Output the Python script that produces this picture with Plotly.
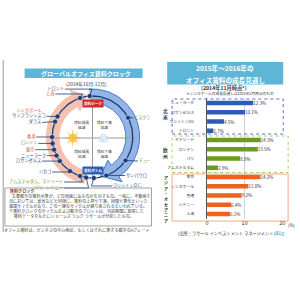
import numpy as np
import plotly.graph_objects as go

# ---------------- data: growth outlook bar chart ----------------
bar_cities = ["ニューヨーク", "ロサンゼルス", "ワシントンDC", "トロント",
              "マドリード", "ロンドン", "パリ", "アムステルダム",
              "東京", "シンガポール", "香港", "シドニー", "上海"]
bar_values = [12.3, 10.1, 4.5, 1.7, 14.3, 13.5, 8.8, 2.9, 14.2, 11.0, 9.2, 6.4, 6.1]
bar_regions = ["北米"] * 4 + ["欧州"] * 4 + ["アジア・オセアニア"] * 5
x_tick_values = [0, 10, 20]
x_tick_labels = ["0", "10", "20"]

# ---------------- data: rent clock ----------------
clock_cities = ["トロント", "上海", "シンガポール、サンフランシスコ", "ダラス", "香港",
                "ロンドン", "東京", "ニューヨーク", "ロサンゼルス", "シカゴ",
                "アムステルダム、マドリード", "パリ、シドニー", "ワシントンD.C.",
                "サンパウロ", "チューリッヒ", "モスクワ"]
clock_regions = [["北米"], ["アジア"], ["アジア", "北米"], ["北米"], ["アジア"],
                 ["欧州"], ["アジア"], ["北米"], ["北米"], ["北米"],
                 ["欧州", "欧州"], ["欧州", "アジア"], ["北米"],
                 ["北米"], ["欧州"], ["欧州"]]
# position on the clock, degrees clockwise from the peak (12 o'clock)
clock_angles = [356, 342, 300, 292, 270, 261, 252, 243, 234, 214, 198, 189, 178, 160, 125, 62]

# ---------------- styling / layout helpers ----------------
W = H = 300
def X(px): return px / W
def Y(py): return 1 - py / H

FONT = "Noto Sans CJK JP"
bar_colors = {"北米": "#2d5bb9", "欧州": "#6e9b1f", "アジア・オセアニア": "#f0601e"}
label_colors = {"北米": "#1d3b78", "欧州": "#6f8f1a", "アジア": "#e8501a"}
NAVY = "#1d3b78"

fig = go.Figure()

# ================= bar chart =================
ypos = list(range(len(bar_cities)))
fig.add_trace(go.Bar(
    x=bar_values, y=ypos, orientation="h",
    marker=dict(color=[bar_colors[r] for r in bar_regions], line=dict(width=0)),
    width=0.5,
    text=[f"{v:.1f}%" for v in bar_values], textposition="outside",
    textfont=dict(size=4.5, color="#333", family=FONT),
    constraintext="none", cliponaxis=False,
    xaxis="x", yaxis="y", showlegend=False, hoverinfo="skip"))

# ================= rent clock =================
cx, cy, R = 92.0, 137.0, 41.0
def pt(a, r):
    t = np.radians(a)
    return cx + r * np.sin(t), cy - r * np.cos(t)

def band(a0, a1, r_in, r_out, a_tip, r_tip, flare):
    angs = np.linspace(a0, a1, 60)
    xo, yo = pt(angs, r_out)
    xi, yi = pt(angs[::-1], r_in)
    fx1, fy1 = pt(a1, r_out + flare)
    tx, ty = pt(a_tip, r_tip)
    fx2, fy2 = pt(a1, r_in - flare)
    xs = list(xo) + [fx1, tx, fx2] + list(xi)
    ys = list(yo) + [fy1, ty, fy2] + list(yi)
    return xs, ys

# pink (rising) band on the left
xs, ys = band(190, 334, 34, 47, 352, 42, 5)
fig.add_trace(go.Scatter(x=xs, y=ys, fill="toself", fillcolor="#f6c2ad",
                         line=dict(color="#f0b098", width=0.6), mode="lines",
                         xaxis="x2", yaxis="y2", showlegend=False, hoverinfo="skip"))
# blue (falling) band on the right
xs, ys = band(-4, 146, 34, 48, 168, 40, 6)
fig.add_trace(go.Scatter(x=xs, y=ys, fill="toself", fillcolor="#93b5e6",
                         line=dict(color="#4a7bd0", width=1), mode="lines",
                         xaxis="x2", yaxis="y2", showlegend=False, hoverinfo="skip"))

# cross lines
fig.add_trace(go.Scatter(x=[cx, cx, None, 51, 133], y=[97, 178, None, 138, 138],
                         mode="lines", line=dict(color="#9a9a9a", width=1),
                         xaxis="x2", yaxis="y2", showlegend=False, hoverinfo="skip"))
# sun & cloud icons
fig.add_trace(go.Scatter(x=[72, 72], y=[138, 138], mode="markers",
                         marker=dict(symbol=["asterisk-open", "circle"], size=[13, 8],
                                     color=["#f4a81c", "#f8c41e"],
                                     line=dict(color="#f4a81c", width=1)),
                         xaxis="x2", yaxis="y2", showlegend=False, hoverinfo="skip"))
fig.add_trace(go.Scatter(x=[101, 105, 103], y=[139, 139, 137], mode="markers",
                         marker=dict(symbol="circle", size=[6, 6, 6], color="#e4f2fb",
                                     line=dict(color="#9cc7e6", width=0.6)),
                         xaxis="x2", yaxis="y2", showlegend=False, hoverinfo="skip"))

# track circle
ca = np.linspace(0, 360, 181)
tx, ty = pt(ca, R)
fig.add_trace(go.Scatter(x=tx, y=ty, mode="lines", line=dict(color=NAVY, width=1.3),
                         xaxis="x2", yaxis="y2", showlegend=False, hoverinfo="skip"))

# city dots
dx, dy = pt(np.array(clock_angles, dtype=float), R)
fig.add_trace(go.Scatter(x=dx, y=dy, mode="markers",
                         marker=dict(size=5, color=NAVY, line=dict(color="white", width=0.5)),
                         xaxis="x2", yaxis="y2", showlegend=False, hoverinfo="skip"))

# label offsets relative to the dot (layout only)
label_offsets = {
    "トロント": (-26, -7), "上海": (-26, -4), "シンガポール、サンフランシスコ": (-12, -2.8),
    "ダラス": (-14, 0.8), "香港": (-17, 0), "ロンドン": (-15.5, 0), "東京": (-20, 0),
    "ニューヨーク": (-10.5, 0), "ロサンゼルス": (-19, 0), "シカゴ": (-19, 1),
    "アムステルダム、マドリード": (-17, 6), "パリ、シドニー": (-23.5, 10.5),
    "ワシントンD.C.": (19.5, 8), "サンパウロ": (20, 0), "チューリッヒ": (13.5, 0.5),
    "モスクワ": (6, 0),
}
wrap_names = {"シンガポール、サンフランシスコ"}

lx_l, ly_l, lt_l, lx_r, ly_r, lt_r = [], [], [], [], [], []
lead_x, lead_y = [], []
for name, regs, px, py in zip(clock_cities, clock_regions, dx, dy):
    ox, oy = label_offsets[name]
    lxp, lyp = px + ox, py + oy
    parts = name.split("、")
    html_parts = []
    for i, (p, rg) in enumerate(zip(parts, regs)):
        s = p + ("、" if i < len(parts) - 1 else "")
        html_parts.append(f"<span style='color:{label_colors[rg]}'>{s}</span>")
    html = ("<br>" if name in wrap_names else "").join(html_parts)
    sgn = 1 if ox > 0 else -1
    ly_line = lyp + (2.6 if name in wrap_names else 0)
    lead_x += [lxp - sgn * 0.8, px - sgn * 2.5 if abs(ly_line - py) > 0.9 else px, px, None]
    lead_y += [ly_line, ly_line if abs(ly_line - py) > 0.9 else py, py, None]
    if ox < 0:
        lx_l.append(lxp); ly_l.append(lyp); lt_l.append(html)
    else:
        lx_r.append(lxp); ly_r.append(lyp); lt_r.append(html)

fig.add_trace(go.Scatter(x=lead_x, y=lead_y, mode="lines", line=dict(color=NAVY, width=0.8),
                         xaxis="x2", yaxis="y2", showlegend=False, hoverinfo="skip"))
fig.add_trace(go.Scatter(x=lx_l, y=ly_l, mode="text", text=lt_l, textposition="middle left",
                         textfont=dict(size=4.2, family=FONT),
                         xaxis="x2", yaxis="y2", showlegend=False, hoverinfo="skip"))
fig.add_trace(go.Scatter(x=lx_r, y=ly_r, mode="text", text=lt_r, textposition="middle right",
                         textfont=dict(size=4.2, family=FONT),
                         xaxis="x2", yaxis="y2", showlegend=False, hoverinfo="skip"))

# quadrant captions
fig.add_trace(go.Scatter(x=[81, 104, 81, 104], y=[126, 126, 154.5, 154.5], mode="text",
                         text=["賃料成長<br>減速", "賃料下落<br>加速", "賃料成長<br>加速", "賃料下落<br>減速"],
                         textfont=dict(size=3.8, color="#333", family=FONT),
                         xaxis="x2", yaxis="y2", showlegend=False, hoverinfo="skip"))

# description box text (clipped at panel edge like the reference)
desc_lines = [
    (8, 192, "<b>賃料クロック</b>"),
    (10, 197, "主要都市の賃料水準が、どの局面にあるのかを示すもの。一般に、不動産市"),
    (7, 202, "況においては、景気などと同様に、賃料の上昇や下落、回復や悪化といった"),
    (7, 207, "循環サイクルがあり、この一連のサイクルが繰り返されるといわれている。"),
    (7, 212, "※賃料クロックのサイクルおよび都市のプロットは、当該期間に取得した"),
    (12, 217, "賃料データをもとにジョーンズ ラング ラサールが分析したもの。"),
    (2, 230.5, "オフィス賃料は、ビジネスの中心地区、もしくはそれに準ずる都市のAグレードオフィス物件の賃料"),
]
fig.add_trace(go.Scatter(x=[d[0] for d in desc_lines], y=[d[1] for d in desc_lines], mode="text",
                         text=[d[2] for d in desc_lines], textposition="middle right",
                         textfont=dict(size=4.1, color="#444", family=FONT),
                         xaxis="x2", yaxis="y2", showlegend=False, hoverinfo="skip"))

shapes = []
annotations = []

def rect(x0, y0, x1, y1, **kw):
    shapes.append(dict(type="rect", xref="paper", yref="paper",
                       x0=X(x0), x1=X(x1), y0=Y(y1), y1=Y(y0), **kw))

def text(x, y, s, size, color="#333", bold=False, anchor="center", **kw):
    annotations.append(dict(xref="paper", yref="paper", x=X(x), y=Y(y),
                            xanchor=anchor, yanchor="middle",
                            text=(f"<b>{s}</b>" if bold else s), showarrow=False,
                            font=dict(size=size, color=color, family=FONT), **kw))

# left panel frame line & description box
shapes.append(dict(type="line", xref="paper", yref="paper", x0=X(1.2), x1=X(1.2),
                   y0=Y(232), y1=Y(60), line=dict(color="#9a9a9a", width=1)))
rect(3, 188, 152, 226, line=dict(color="#888", width=0.8), fillcolor="rgba(0,0,0,0)")

# left banner + subtitle
rect(23, 68.5, 143, 78, fillcolor="#5db6d8", line=dict(width=0))
text(85, 73.3, "グローバルオフィス賃料クロック", 6, "white", True)
text(86, 83.5, "(2014年10月-12月)", 4.8, "#333")

# peak / bottom tags
text(93, 103.5, "賃料ピーク", 3.6, "white", True, bgcolor="#d32a2f", borderpad=1)
text(93, 171, "賃料ボトム", 3.6, "white", True, bgcolor="#2c5fb8", borderpad=1)

# right banner + subtitles
rect(168, 62, 286, 84.5, fillcolor="#5db6d8", line=dict(width=0))
text(227, 68, "2015年～2016年の", 6.6, "white", True)
text(227, 80, "オフィス賃料の成長見通し", 6.6, "white", True)
text(226, 88.5, "(2014年11月時点*)", 5.2, "#333", True)
text(232, 93.5, "＊シンガポールの成長見通しは2015年2月時点のもの", 3.7, "#333")

# region boxes
rect(173, 99, 286, 134, line=dict(color="#3e67c4", width=0.9, dash="dot"), fillcolor="rgba(0,0,0,0)")
rect(173, 136, 291, 172.5, line=dict(color="#9ccd5a", width=0.9, dash="dot"), fillcolor="rgba(0,0,0,0)")
rect(173, 174, 291, 221, line=dict(color="#f1a07c", width=0.9), fillcolor="rgba(0,0,0,0)")

# vertical region names (one stacked annotation each)
text(166.5, 115, "<br>".join("北米"), 4.7, "#1d3b78", True, borderpad=0)
text(166.5, 152.5, "<br>".join("欧州"), 4.7, "#333", True, borderpad=0)
text(166.5, 199, "<br>".join("アジア・オセアニア"), 4.1, "#333", True, borderpad=0)

# axis unit and source
text(288.5, 225.2, "(%)", 4.2, "#333", anchor="left")
text(233, 233.5, "(出所：ラサール インベストメント マネージメント(JLL))", 4.2, "#333")

fig.update_layout(
    width=W, height=H, autosize=False,
    margin=dict(l=0, r=0, t=0, b=0),
    paper_bgcolor="white", plot_bgcolor="rgba(0,0,0,0)",
    font=dict(family=FONT, color="#333"),
    showlegend=False,
    xaxis=dict(domain=[X(208.5), X(285)], range=[0, 20], tickvals=x_tick_values,
               ticktext=x_tick_labels, showgrid=True, gridcolor="#cfcfcf", gridwidth=0.8,
               zeroline=False, showline=False, ticks="", tickfont=dict(size=5.5, color="#333"),
               anchor="y", fixedrange=True),
    yaxis=dict(domain=[Y(218.6), Y(98.4)], range=[12.5, -0.5], tickvals=ypos,
               ticktext=bar_cities, showgrid=False, zeroline=False, showline=True,
               linecolor="#555", linewidth=1, ticks="", ticklabelstandoff=11,
               tickfont=dict(size=3.9, color="#333"), anchor="x", fixedrange=True),
    xaxis2=dict(domain=[0, 0.5], range=[0, 150], visible=False, anchor="y2", fixedrange=True),
    yaxis2=dict(domain=[0.2, 0.8], range=[240, 60], visible=False, anchor="x2", fixedrange=True),
    shapes=shapes, annotations=annotations,
)

fig.write_html("out.html")
